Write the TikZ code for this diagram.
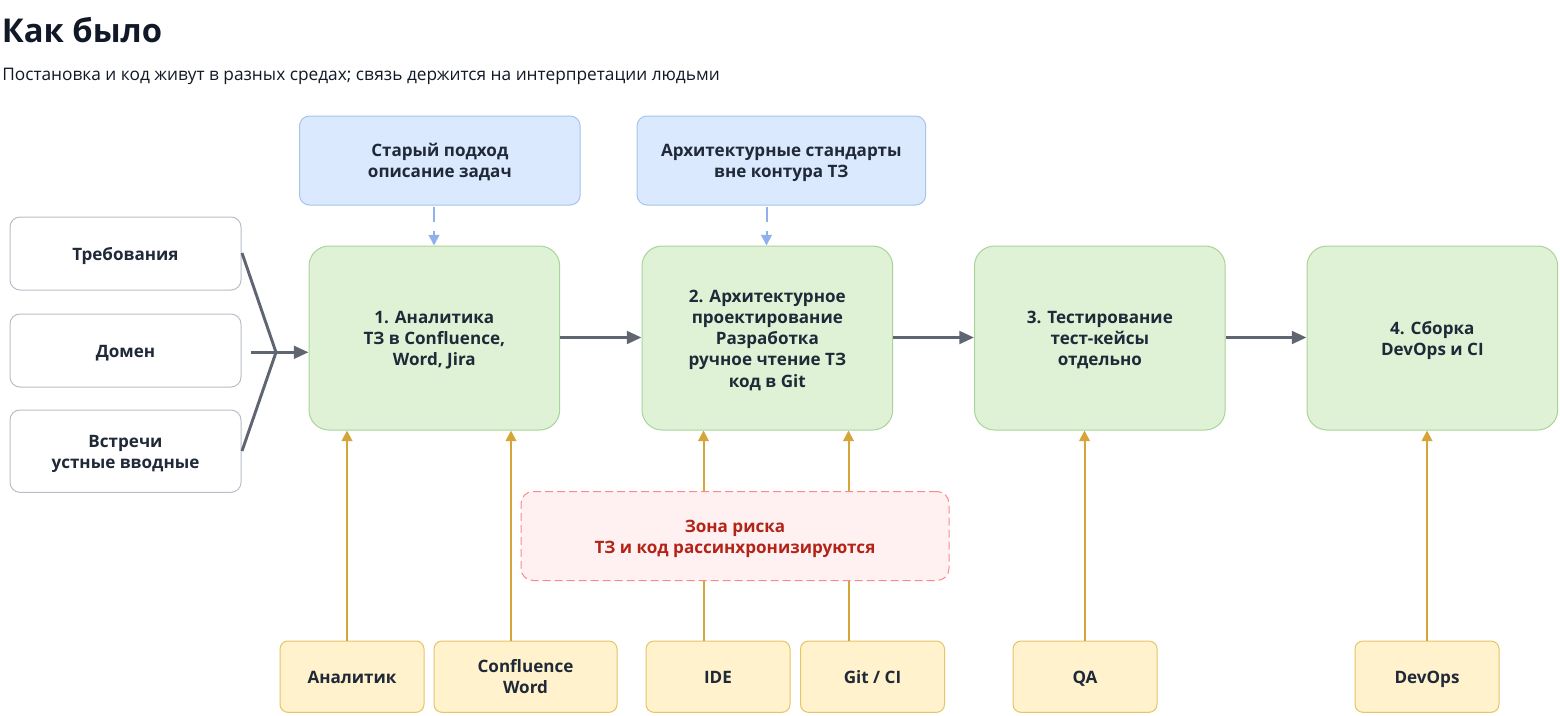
\documentclass[tikz,border=0pt]{standalone}
\usepackage{fontspec}
\setmainfont{Open Sans}
\usetikzlibrary{arrows.meta,calc}
\newcommand{\firstln}{\rule{0pt}{13.5pt}}
\newcommand{\lastln}{\rule[-3.5pt]{0pt}{0pt}}
\definecolor{inktext}{HTML}{1F2937}
\definecolor{titleink}{HTML}{111827}
\definecolor{flowgray}{HTML}{5F6672}
\definecolor{toolgold}{HTML}{D4A63A}
\definecolor{dashblue}{HTML}{8FB0E8}
\definecolor{inborder}{HTML}{B8BEC8}
\definecolor{bluefill}{HTML}{DBE9FE}
\definecolor{blueborder}{HTML}{A4C4EE}
\definecolor{greenfill}{HTML}{DFF2D6}
\definecolor{greenborder}{HTML}{A8D49A}
\definecolor{yellowfill}{HTML}{FFF2CC}
\definecolor{yellowborder}{HTML}{E6C468}
\definecolor{riskfill}{HTML}{FFF1F2}
\definecolor{riskborder}{HTML}{FA8A8A}
\definecolor{riskink}{HTML}{B42318}
\tikzset{
  x=0.75pt,y=-0.75pt,
  base/.style={draw,line width=0.75pt,align=center,font=\bfseries\fontsize{12.8}{15.9}\selectfont,text=inktext,inner sep=0pt,anchor=north west},
  inbox/.style={base,draw=inborder,fill=white,rounded corners=7.5pt,minimum width=173.25pt,minimum height=54.75pt},
  bluebox/.style={base,draw=blueborder,fill=bluefill,rounded corners=7.5pt,minimum width=210.5pt,minimum height=66.75pt},
  greenbox/.style={base,draw=greenborder,fill=greenfill,rounded corners=15pt,minimum width=188pt,minimum height=138pt},
  toolbox/.style={base,draw=yellowborder,fill=yellowfill,rounded corners=6pt,minimum width=108pt,minimum height=53.5pt},
  riskbox/.style={base,dash pattern=on 6pt off 3pt,draw=riskborder,fill=riskfill,text=riskink,rounded corners=9pt,minimum width=321pt,minimum height=66.75pt},
  flow/.style={draw=flowgray,line width=2.2pt,-{Triangle[length=11pt,width=9.5pt]}},
  flowplain/.style={draw=flowgray,line width=2.2pt},
  tool/.style={draw=toolgold,line width=1.5pt,-{Triangle[length=8pt,width=8pt]}},
  ctx/.style={draw=dashblue,line width=1.5pt,dash pattern=on 11pt off 7pt,-{Triangle[length=8pt,width=8pt]}}
}
\begin{document}
\begin{tikzpicture}
\useasboundingbox (0,0) rectangle (1560,715);
% Title
\node[anchor=west,inner sep=0pt,font=\bfseries\fontsize{24.6}{28}\selectfont,text=titleink] (title) at (1.5,30) {Как было};
\node[anchor=west,inner sep=0pt,font=\fontsize{12.96}{16}\selectfont,text=titleink] (subtitle) at (2,76.5) {Постановка и код живут в разных средах; связь держится на интерпретации людьми};
% Inputs
\node[inbox] (req) at (9.5,216.5) {\firstln Требования\lastln};
\node[inbox] (dom) at (9.5,313.5) {\firstln Домен\lastln};
\node[inbox,minimum height=61.75pt] (meet) at (9.5,409.5) {\firstln Встречи\\устные вводные\lastln};
% Context
\node[bluebox] (old) at (299,115.5) {\firstln Старый подход\\описание задач\lastln};
\node[bluebox,minimum width=216.5pt] (arch) at (636.5,115.5) {\firstln Архитектурные стандарты\\вне контура ТЗ\lastln};
% Stages
\node[greenbox] (s1) at (308.5,245.5) {\firstln 1. Аналитика\\ТЗ в Confluence,\\Word, Jira\lastln};
\node[greenbox] (s2) at (641.5,245.5) {\firstln 2. Архитектурное\\проектирование\\Разработка\\ручное чтение ТЗ\\код в Git\lastln};
\node[greenbox] (s3) at (974,245.5) {\firstln 3. Тестирование\\тест-кейсы\\отдельно\lastln};
\node[greenbox] (s4) at (1306.5,245.5) {\firstln 4. Сборка\\DevOps и CI\lastln};
% Tools
\node[toolbox] (t1) at (279.5,640.5) {\firstln Аналитик\lastln};
\node[toolbox,minimum width=137.25pt] (t2) at (433.5,640.5) {\firstln Confluence\\Word\lastln};
\node[toolbox] (t3) at (645.5,640.5) {\firstln IDE\lastln};
\node[toolbox] (t4) at (800,640.5) {\firstln Git / CI\lastln};
\node[toolbox] (t5) at (1012.5,640.5) {\firstln QA\lastln};
\node[toolbox] (t6) at (1354.5,640.5) {\firstln DevOps\lastln};
% Free ends
\coordinate (hub) at (276,352.3);
\coordinate (reqout) at (242,253);
\coordinate (meetout) at (242,451);
\coordinate (domout) at (251,352.3);
\coordinate (in1) at (s1.west |- hub);
\coordinate (old0) at (434,207);
\coordinate (arch0) at (766.5,207);
% Input merge
\draw[flowplain,line join=round] (reqout) -- (hub) -- (meetout);
\draw[flow] (domout) -- (in1);
% Main flow
\draw[flow] (s1.east |- 0,337.5) -- (s2.west |- 0,337.5);
\draw[flow] (s2.east |- 0,337.5) -- (s3.west |- 0,337.5);
\draw[flow] (s3.east |- 0,337.5) -- (s4.west |- 0,337.5);
% Dashed context
\draw[ctx] (old0) -- (old0 |- s1.north);
\draw[ctx] (arch0) -- (arch0 |- s2.north);
% Tool arrows
\draw[tool] (347,641) coordinate (a1) -- (a1 |- s1.south);
\draw[tool] (511,641) coordinate (a2) -- (a2 |- s1.south);
\draw[tool] (703.5,641) coordinate (a3) -- (a3 |- s2.south);
\draw[tool] (848.5,641) coordinate (a4) -- (a4 |- s2.south);
\draw[tool] (1084.5,641) coordinate (a5) -- (a5 |- s3.south);
\draw[tool] (1427,641) coordinate (a6) -- (a6 |- s4.south);
% Risk on top of arrows
\node[riskbox] (risk) at (520.5,491) {\firstln Зона риска\\ТЗ и код рассинхронизируются\lastln};
\end{tikzpicture}
\end{document}
